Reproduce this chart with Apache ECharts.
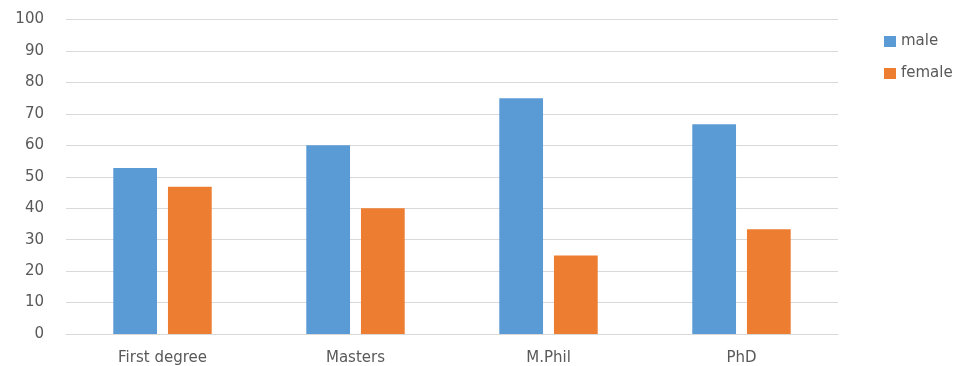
<!DOCTYPE html>
<html>
<head>
<meta charset="utf-8">
<script src="https://cdn.jsdelivr.net/npm/echarts@6/dist/echarts.min.js"></script>
<style>
html,body{margin:0;padding:0;background:#fff;}
#chart{width:967px;height:366px;}
</style>
</head>
<body>
<div id="chart"></div>
<script>
const categories = ['First degree', 'Masters', 'M.Phil', 'PhD'];
const maleValues = [52.8, 60, 75, 66.7];
const femaleValues = [46.8, 40, 25, 33.3];
const yTicks = { min: 0, max: 100, interval: 10 };

const font = 'DejaVu Sans';
const chart = echarts.init(document.getElementById('chart'), null, { renderer: 'canvas' });
chart.setOption({
  animation: false,
  backgroundColor: '#ffffff',
  grid: { left: 66, right: 129, top: 19.5, bottom: 31.5, containLabel: false },
  legend: {
    orient: 'vertical',
    left: 879,
    top: 29,
    itemWidth: 12,
    itemHeight: 11,
    itemGap: 17,
    icon: 'rect',
    textStyle: { color: '#595959', fontSize: 15, fontFamily: font },
    data: ['male', 'female']
  },
  xAxis: {
    type: 'category',
    data: categories,
    axisLine: { lineStyle: { color: '#d9d9d9', width: 1 } },
    axisTick: { show: false },
    axisLabel: { color: '#595959', fontSize: 15, fontFamily: font, margin: 17 }
  },
  yAxis: {
    type: 'value',
    min: yTicks.min,
    max: yTicks.max,
    interval: yTicks.interval,
    axisLine: { show: false },
    axisTick: { show: false },
    splitLine: { lineStyle: { color: '#d9d9d9', width: 1 } },
    axisLabel: { color: '#595959', fontSize: 15, fontFamily: font, margin: 22 }
  },
  series: [
    {
      name: 'male', type: 'bar', data: maleValues,
      itemStyle: { color: '#5b9bd5' },
      barGap: '25%', barCategoryGap: '49%'
    },
    {
      name: 'female', type: 'bar', data: femaleValues,
      itemStyle: { color: '#ed7d31' },
      barGap: '25%', barCategoryGap: '49%'
    }
  ]
});
</script>
</body>
</html>
